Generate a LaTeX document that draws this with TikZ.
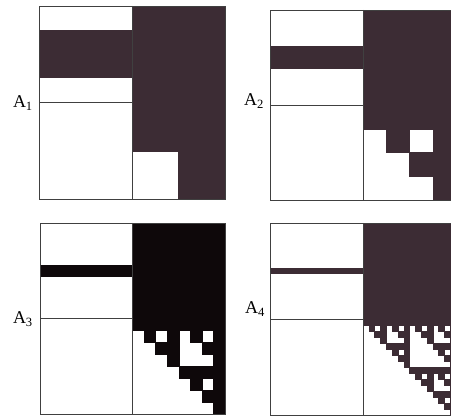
\documentclass[tikz,border=0pt]{standalone}
\usepackage{fontspec}
\setmainfont{Liberation Serif}
\usepackage{tikz}
\usetikzlibrary{calc}
\definecolor{inkdark}{RGB}{60,44,52}
\definecolor{inkblack}{RGB}{14,8,10}
\tikzset{
  frame/.style={draw=black!75, line width=0.6pt},
  lab/.style={anchor=east, inner sep=0pt, font=\fontsize{18}{21}\selectfont}
}

\begin{document}
\begin{tikzpicture}[x=1pt,y=-1pt]
  \useasboundingbox (0,0) rectangle (451,419);
  \clip (0,0) rectangle (451,419);
  \foreach \px/\py/\pw/\ph/\k/\col/\lx/\ly [count=\c] in
    {39/6/186/193/1/inkdark/33/103, 270/10/186/190/2/inkdark/264/101,
     40/223/185/191/3/inkblack/33/319, 270/223/186/192/4/inkdark/265/309} {
    \pgfmathsetmacro\hw{\pw/2}
    \pgfmathsetmacro\hh{\ph/2}
    \pgfmathtruncatemacro\m{2^\k}
    \pgfmathtruncatemacro\mm{\m-1}
    \pgfmathsetmacro\cw{\hw/\m}
    \pgfmathsetmacro\ch{\hh/\m}
    \pgfmathsetmacro\bh{\hh/2^(\k+1)}
    \coordinate (nw\c) at (\px,\py);
    \coordinate (se\c) at ({\px+\pw},{\py+\ph});
    \coordinate (mt\c) at ({\px+\hw},\py);
    \coordinate (mb\c) at ({\px+\hw},{\py+\ph});
    \coordinate (ml\c) at (\px,{\py+\hh});
    \coordinate (mc\c) at ({\px+\hw},{\py+\hh});
    % upper right block and the band on the left
    \fill[fill=\col] (mt\c) rectangle ({\px+\pw},{\py+\hh});
    \fill[fill=\col] (\px,{\py+\hh/2-\bh}) rectangle ({\px+\hw},{\py+\hh/2+\bh});
    % lower right block: binomials mod 2
    \foreach \i in {0,...,\mm} {
      \foreach \j in {0,...,\mm} {
        \pgfmathtruncatemacro\d{(1-mod(\i,2)*(1-mod(\j,2)))*(1-mod(floor(\i/2),2)*(1-mod(floor(\j/2),2)))*(1-mod(floor(\i/4),2)*(1-mod(floor(\j/4),2)))*(1-mod(floor(\i/8),2)*(1-mod(floor(\j/8),2)))}
        \ifnum\d=1
          \fill[fill=\col, draw=\col, line width=0.3pt] ({\px+\hw+\j*\cw},{\py+\hh+\i*\ch}) rectangle +(\cw,\ch);
        \fi
      }
    }
    \draw[frame] (nw\c) rectangle (se\c);
    \draw[frame] (mt\c) -- (mb\c);
    \draw[frame] (ml\c) -- (mc\c);
    \node[lab] (a\c) at (\lx,\ly) {A\textsubscript{\c}};
  }
\end{tikzpicture}
\end{document}
